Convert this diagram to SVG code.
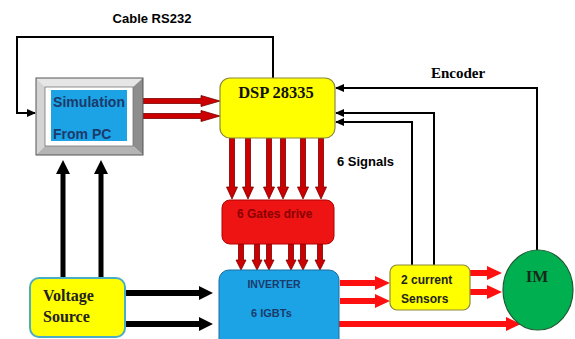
<svg xmlns="http://www.w3.org/2000/svg" width="575" height="339" viewBox="0 0 575 339">
<style>
.sans{font-family:"Liberation Sans",Arial,sans-serif;font-weight:bold}
.serif{font-family:"Liberation Serif","Times New Roman",serif;font-weight:bold}
.darkred{fill:#cc0000;stroke:#7a0000;stroke-width:0.8}
.red{fill:#ff1010;stroke:none}
.blk{fill:#000}
.thin{fill:none;stroke:#000;stroke-width:2;marker-end:url(#ah)}
</style>
<defs>
<marker id="ah" markerUnits="userSpaceOnUse" markerWidth="9" markerHeight="8" refX="8" refY="4" orient="auto">
<path d="M0,0 L9,4 L0,8 Z" fill="#000"/>
</marker>
</defs>
<rect width="575" height="339" fill="#fff"/>

<g id="connectors">
<path class="thin" d="M273,78 V37 H17 V113 H35"/>
<path class="thin" d="M412,265 V122 H336"/>
<path class="thin" d="M434,265 V113 H336"/>
<path class="thin" d="M537,250 V88 H336"/>
<!-- PC to DSP -->
<path class="darkred" d="M143,98.5 H201 V95.5 L220,101 L201,106.5 V103.5 H143 Z"/>
<path class="darkred" d="M143,113.5 H201 V110.5 L220,116 L201,121.5 V118.5 H143 Z"/>
<!-- DSP to gates -->
<path class="darkred" d="M229.5,138 V187 H226.5 L232,199 L237.5,187 H234.5 V138 Z"/>
<path class="darkred" d="M245.5,138 V187 H242.5 L248,199 L253.5,187 H250.5 V138 Z"/>
<path class="darkred" d="M266.5,138 V187 H263.5 L269,199 L274.5,187 H271.5 V138 Z"/>
<path class="darkred" d="M280.5,138 V187 H277.5 L283,199 L288.5,187 H285.5 V138 Z"/>
<path class="darkred" d="M300.5,138 V187 H297.5 L303,199 L308.5,187 H305.5 V138 Z"/>
<path class="darkred" d="M318.5,138 V187 H315.5 L321,199 L326.5,187 H323.5 V138 Z"/>
<!-- gates to inverter -->
<path class="darkred" d="M238.5,244 V260 H236 L241,270 L246,260 H243.5 V244 Z"/>
<path class="darkred" d="M254.5,244 V260 H252 L257,270 L262,260 H259.5 V244 Z"/>
<path class="darkred" d="M266.5,244 V260 H264 L269,270 L274,260 H271.5 V244 Z"/>
<path class="darkred" d="M288.5,244 V260 H286 L291,270 L296,260 H293.5 V244 Z"/>
<path class="darkred" d="M300.5,244 V260 H298 L303,270 L308,260 H305.5 V244 Z"/>
<path class="darkred" d="M317.5,244 V260 H315 L320,270 L325,260 H322.5 V244 Z"/>
<!-- voltage to PC -->
<path class="blk" d="M60.5,278 V174 H56 L63,160 L70,174 H65.5 V278 Z"/>
<path class="blk" d="M98.5,283 V174 H94 L101,160 L108,174 H103.5 V283 Z"/>
<!-- voltage to inverter -->
<path class="blk" d="M125,290 H199 V286 L213,293 L199,300 V296 H125 Z"/>
<path class="blk" d="M125,321 H199 V317 L213,324 L199,331 V327 H125 Z"/>
<!-- inverter to sensors -->
<path class="red" d="M340,280 H375 V276 L390,283 L375,290 V286 H340 Z"/>
<path class="red" d="M340,298 H375 V294 L390,301 L375,308 V304 H340 Z"/>
<!-- sensors to IM -->
<path class="red" d="M470,270 H487 V266 L502,273 L487,280 V276 H470 Z"/>
<path class="red" d="M470,289 H487 V285 L502,292 L487,299 V295 H470 Z"/>
<!-- inverter to IM -->
<path class="red" d="M335,321 H506 V317 L521,324 L506,331 V327 H335 Z"/>
</g>

<text class="sans" x="152" y="23" font-size="13" text-anchor="middle">Cable RS232</text>
<text class="serif" x="458" y="78" font-size="15" text-anchor="middle">Encoder</text>
<text class="sans" x="337" y="166" font-size="13">6 Signals</text>

<g id="pc">
<polygon points="36,78 143,78 133,87 45,87" fill="#e6e6e6"/>
<polygon points="36,78 45,87 45,146 36,155" fill="#d4d4d4"/>
<polygon points="143,78 143,155 133,146 133,87" fill="#8e8e8e"/>
<polygon points="36,155 143,155 133,146 45,146" fill="#b4b4b4"/>
<rect x="36" y="78" width="107" height="77" fill="none" stroke="#555" stroke-width="1"/>
<rect x="45" y="87" width="88" height="59" fill="#fff" stroke="#777" stroke-width="0.8"/>
<rect x="51" y="90" width="76" height="51" fill="#1ba3e6"/>
<text class="sans" x="53" y="107" font-size="14" fill="#1c3a6b" textLength="72">Simulation</text>
<text class="sans" x="53" y="139" font-size="14" fill="#1c3a6b">From PC</text>
</g>

<g id="dsp">
<rect x="220" y="78" width="115" height="60" rx="10" fill="#ffff00" stroke="#8c8a3a" stroke-width="1.2"/>
<text class="serif" x="276" y="98" font-size="16.5" text-anchor="middle" fill="#111">DSP 28335</text>
</g>

<g id="gates">
<rect x="222" y="200" width="112" height="44" rx="8" fill="#ee1414" stroke="#b00000" stroke-width="1"/>
<text class="sans" x="237" y="218" font-size="12" fill="#8a0000">6 Gates drive</text>
</g>

<g id="inverter">
<rect x="219" y="270" width="120" height="80" rx="10" fill="#1ba3e6" stroke="#1a6f9e" stroke-width="1"/>
<text class="sans" x="274" y="288" font-size="10.5" text-anchor="middle" fill="#1c3a6b">INVERTER</text>
<text class="sans" x="251" y="317" font-size="11" fill="#1c3a6b">6 IGBTs</text>
</g>

<g id="voltage">
<rect x="30" y="278" width="95" height="59" rx="9" fill="#ffff00" stroke="#4bacc6" stroke-width="2"/>
<text class="serif" x="43" y="301" font-size="16" fill="#222">Voltage</text>
<text class="serif" x="43" y="322" font-size="16" fill="#222">Source</text>
</g>

<g id="sensors">
<rect x="390" y="265" width="80" height="45" rx="7" fill="#ffff00" stroke="#8c8a3a" stroke-width="1.2"/>
<text class="sans" x="401" y="284" font-size="12" fill="#222">2 current</text>
<text class="sans" x="401" y="303" font-size="12" fill="#222">Sensors</text>
</g>

<g id="im">
<ellipse cx="538" cy="290" rx="35" ry="40" fill="#00b050" stroke="#1d5a32" stroke-width="1.2"/>
<text class="serif" x="537" y="282" font-size="17" text-anchor="middle" fill="#1a2a1a">IM</text>
</g>
</svg>
